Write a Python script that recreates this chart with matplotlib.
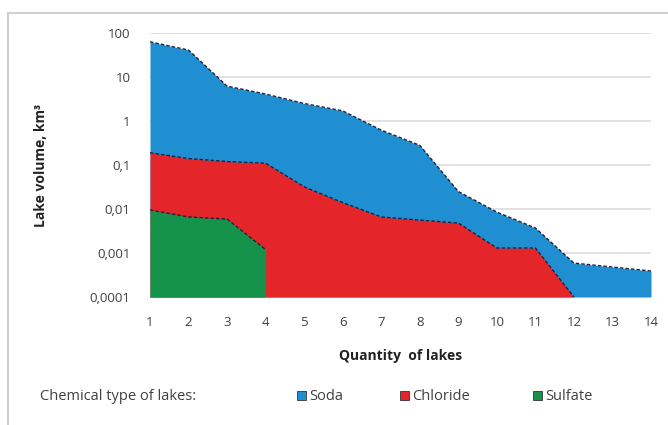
import numpy as np
import matplotlib
matplotlib.use("Agg")
import matplotlib.pyplot as plt
from matplotlib.patches import Rectangle
from matplotlib.lines import Line2D

# Lake volumes (km3) by rank within each chemical type
lakes = np.arange(1, 15)
soda = [63, 41, 6.2, 4.1, 2.5, 1.7, 0.62, 0.28, 0.025, 0.0085, 0.0037, 0.00059, 0.00048, 0.00039]
chloride = [0.19, 0.14, 0.12, 0.11, 0.032, 0.014, 0.0066, 0.0056, 0.0048, 0.0013, 0.0013, 0.0001]
sulfate = [0.0095, 0.0066, 0.0059, 0.0012]

series = [("Soda", soda, "#1f8fd2"),
          ("Chloride", chloride, "#e4262b"),
          ("Sulfate", sulfate, "#16934a")]
ytick_vals = [1e-4, 1e-3, 1e-2, 1e-1, 1, 10, 100]
ytick_labels = ["0,0001", "0,001", "0,01", "0,1", "1", "10", "100"]

plt.rcParams['font.family'] = ['Open Sans', 'DejaVu Sans']
txt_color = "#404040"

fig = plt.figure(figsize=(6.68, 4.25), dpi=100)
ax = fig.add_axes([150 / 668, 1 - 297 / 425, 501 / 668, 264 / 425])

ymin = 1e-4
for name, vals, col in series:
    x = lakes[:len(vals)]
    ax.fill_between(x, ymin, vals, color=col, lw=0, zorder=2)
    ax.plot(x, vals, color="#1c2340", lw=1.0, ls=(0, (2.5, 1.5)), zorder=3)

ax.set_yscale("log")
ax.set_ylim(1e-4, 100)
ax.set_xlim(1, 14)
ax.set_yticks(ytick_vals)
ax.set_yticklabels(ytick_labels)
ax.minorticks_off()
ax.set_xticks(lakes)
ax.grid(axis="y", color="#dcdcdc", lw=1.2, zorder=0)
ax.set_axisbelow(True)
for s in ax.spines.values():
    s.set_visible(False)
ax.tick_params(length=0, labelsize=9.5, colors=txt_color, pad=14)
ax.tick_params(axis="y", pad=14)

ax.set_xlabel("Quantity  of lakes", fontsize=10, fontweight="bold", color="#222222", labelpad=14)
ax.set_ylabel("Lake volume, km³", fontsize=10, fontweight="bold", color="#222222", labelpad=30)

# legend row under the chart
fig.text(40 / 668, 1 - 396 / 425, "Chemical type of lakes:", fontsize=10.5,
         color=txt_color, va="center")
for (name, vals, col), xpos in zip(series, [297, 400, 533]):
    fig.add_artist(Rectangle((xpos / 668, 1 - 400 / 425), 9 / 668, 9 / 425,
                             facecolor=col, edgecolor="#333333", lw=0.6,
                             transform=fig.transFigure))
    fig.text((xpos + 12) / 668, 1 - 396 / 425, name, fontsize=10.5,
             color=txt_color, va="center")

# outer chart frame
fig.add_artist(Line2D([8 / 668, 1], [1 - 13 / 425, 1 - 13 / 425], color="#d0d0d0",
                      lw=1.5, transform=fig.transFigure))
fig.add_artist(Line2D([8 / 668, 8 / 668], [0, 1 - 13 / 425], color="#d0d0d0",
                      lw=1.5, transform=fig.transFigure))

fig.savefig("out.png", dpi=100)
